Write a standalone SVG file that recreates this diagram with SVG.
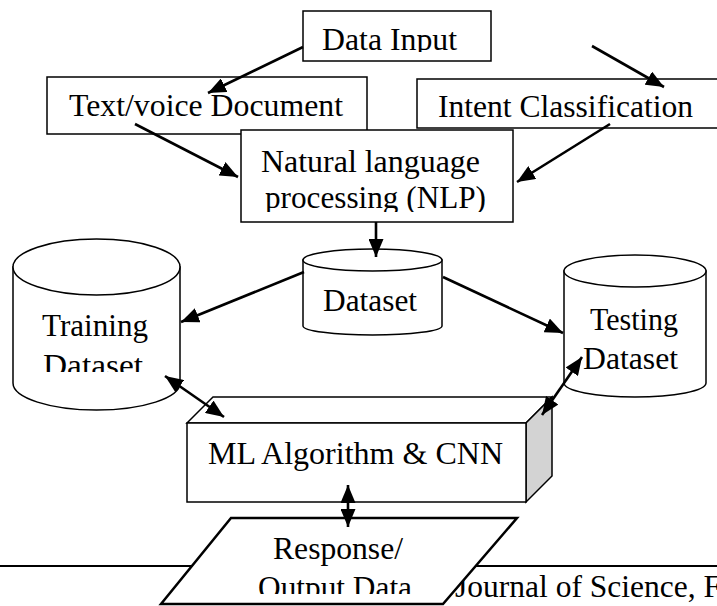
<svg xmlns="http://www.w3.org/2000/svg" width="717" height="606" viewBox="0 0 717 606">
<style>
  .box { fill: #fff; stroke: #000; stroke-width: 1.5; }
  .cyl { fill: #fff; stroke: #000; stroke-width: 1.5; }
  .lbl { font-family: "Liberation Serif", "Times New Roman", serif; font-size: 32px; fill: #000; }
  .con { fill: none; stroke: #000; stroke-width: 2.6; }
</style>
<defs>
  <marker id="ah" markerUnits="userSpaceOnUse" markerWidth="19" markerHeight="15" refX="18" refY="7.5" orient="auto-start-reverse">
    <path d="M0,0 L18,7.5 L0,15 z" fill="#000"/>
  </marker>
  <clipPath id="cDI"><rect x="300" y="0" width="200" height="52"/></clipPath>
  <clipPath id="cNLP"><rect x="240" y="130" width="280" height="82"/></clipPath>
  <clipPath id="cTR"><rect x="0" y="230" width="200" height="142"/></clipPath>
  <clipPath id="cOUT"><rect x="150" y="510" width="380" height="84"/></clipPath>
</defs>

<g id="footer">
  <line x1="0" y1="566" x2="717" y2="566" stroke="#000" stroke-width="2"/>
  <text class="lbl" x="455" y="597" textLength="266" lengthAdjust="spacingAndGlyphs">Journal of Science, F</text>
</g>

<g id="data-input">
  <rect class="box" x="303" y="11" width="188" height="50"/>
  <text class="lbl" x="322" y="50" textLength="135" lengthAdjust="spacingAndGlyphs" clip-path="url(#cDI)">Data Input</text>
</g>

<g id="text-voice">
  <rect class="box" x="47" y="77" width="320" height="57"/>
  <text class="lbl" x="69" y="116" textLength="274" lengthAdjust="spacingAndGlyphs">Text/voice Document</text>
</g>

<g id="intent">
  <rect class="box" x="417" y="79" width="310" height="49"/>
  <text class="lbl" x="438" y="117" textLength="255" lengthAdjust="spacingAndGlyphs">Intent Classification</text>
</g>

<g id="nlp">
  <rect class="box" x="241" y="130" width="272" height="92"/>
  <text class="lbl" x="261" y="172" textLength="219" lengthAdjust="spacingAndGlyphs">Natural language</text>
  <text class="lbl" x="265" y="208" textLength="221" lengthAdjust="spacingAndGlyphs" clip-path="url(#cNLP)">processing (NLP)</text>
</g>

<g id="dataset">
  <path class="cyl" d="M303,260 L303,326 A69.5,9 0 0 0 442,326 L442,260 Z"/>
  <ellipse class="cyl" cx="372.5" cy="260" rx="69.5" ry="11"/>
  <text class="lbl" x="323" y="311" textLength="94" lengthAdjust="spacingAndGlyphs">Dataset</text>
</g>

<g id="training">
  <path class="cyl" d="M13,267 L13,383 A83.5,27 0 0 0 180,383 L180,267 Z"/>
  <ellipse class="cyl" cx="96.5" cy="267" rx="83.5" ry="28"/>
  <text class="lbl" x="42" y="336" textLength="106" lengthAdjust="spacingAndGlyphs">Training</text>
  <text class="lbl" x="43" y="376" textLength="100" lengthAdjust="spacingAndGlyphs" clip-path="url(#cTR)">Dataset</text>
</g>

<g id="testing">
  <path class="cyl" d="M564,271 L564,383 A71,14 0 0 0 706,383 L706,271 Z"/>
  <ellipse class="cyl" cx="635" cy="271" rx="71" ry="16"/>
  <text class="lbl" x="590" y="330" textLength="88" lengthAdjust="spacingAndGlyphs">Testing</text>
  <text class="lbl" x="583" y="369" textLength="95" lengthAdjust="spacingAndGlyphs">Dataset</text>
</g>

<g id="ml">
  <polygon class="box" points="187,423 213,397 552,397 526,423"/>
  <polygon points="526,423 552,397 552,476 526,502" fill="#d3d3d3" stroke="#000" stroke-width="1.5"/>
  <rect class="box" x="187" y="423" width="339" height="79"/>
  <text class="lbl" x="208" y="464" textLength="295" lengthAdjust="spacingAndGlyphs">ML Algorithm &amp; CNN</text>
</g>

<g id="output">
  <polygon points="231,518 517,518 443,604 161,604" fill="#fff" stroke="#000" stroke-width="2.5"/>
  <text class="lbl" x="273" y="559" textLength="130" lengthAdjust="spacingAndGlyphs">Response/</text>
  <text class="lbl" x="258" y="598" textLength="154" lengthAdjust="spacingAndGlyphs" clip-path="url(#cOUT)">Output Data</text>
</g>

<g id="connectors">
  <line class="con" x1="303" y1="47" x2="208" y2="93" marker-end="url(#ah)"/>
  <line class="con" x1="592" y1="46" x2="664" y2="87" marker-end="url(#ah)"/>
  <line class="con" x1="135" y1="124" x2="238" y2="177" marker-end="url(#ah)"/>
  <line class="con" x1="610" y1="124" x2="517" y2="182" marker-end="url(#ah)"/>
  <line class="con" x1="376" y1="222" x2="376" y2="257" marker-end="url(#ah)"/>
  <line class="con" x1="304" y1="272" x2="181" y2="322" marker-end="url(#ah)"/>
  <line class="con" x1="443" y1="277" x2="563" y2="333" marker-end="url(#ah)"/>
  <line class="con" x1="165" y1="376" x2="224" y2="417" marker-start="url(#ah)" marker-end="url(#ah)"/>
  <line class="con" x1="582" y1="357" x2="542" y2="415" marker-start="url(#ah)" marker-end="url(#ah)"/>
  <line class="con" x1="348" y1="485" x2="348" y2="527" marker-start="url(#ah)" marker-end="url(#ah)"/>
</g>
</svg>
